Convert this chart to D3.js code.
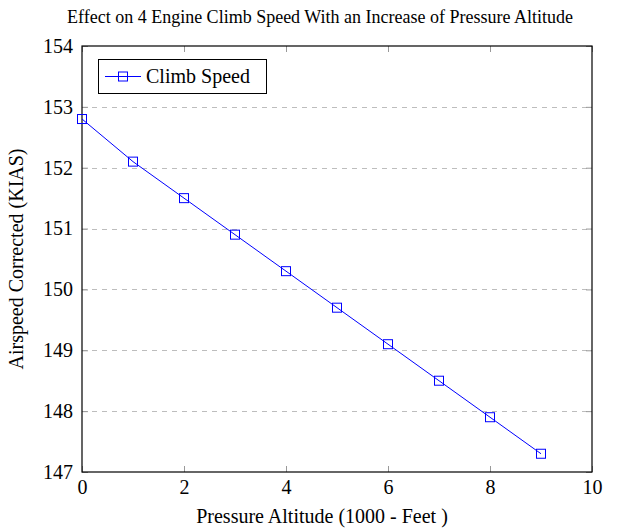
<!DOCTYPE html>
<html>
<head>
<meta charset="utf-8">
<script src="https://cdn.jsdelivr.net/npm/d3@7"></script>
<style>
  html, body { margin: 0; padding: 0; background: #fff; }
</style>
</head>
<body>
<svg id="chart" width="636" height="531"></svg>
<script>
// Climb speed vs pressure altitude
const altitudes = [0, 1, 2, 3, 4, 5, 6, 7, 8, 9];
const climbSpeed = [152.8, 152.1, 151.5, 150.9, 150.3, 149.7, 149.1, 148.5, 147.9, 147.3];
const xTicks = [0, 2, 4, 6, 8, 10];
const yTicks = [147, 148, 149, 150, 151, 152, 153, 154];
const seriesName = "Climb Speed";
const titleText = "Effect on 4 Engine Climb Speed With an Increase of Pressure Altitude";
const xLabel = "Pressure Altitude (1000 - Feet )";
const yLabel = "Airspeed Corrected (KIAS)";

const svg = d3.select("#chart");

// title and axis titles
svg.append("text").attr("x", 320).attr("y", 23).attr("text-anchor", "middle")
  .attr("font-family", "Liberation Serif").attr("font-size", 18).text(titleText);
svg.append("text").attr("x", 322).attr("y", 523).attr("text-anchor", "middle")
  .attr("font-family", "Liberation Serif").attr("font-size", 20).text(xLabel);
svg.append("text").attr("transform", "translate(23,259) rotate(-90)")
  .attr("text-anchor", "middle").attr("font-family", "Liberation Serif").attr("font-size", 20).text(yLabel);

const x = d3.scaleLinear().domain([0, 10]).range([82, 592]);
const y = d3.scaleLinear().domain([147, 154]).range([472, 46]);

// horizontal dashed grid
svg.append("g").selectAll("line").data(yTicks.slice(1, -1)).join("line")
  .attr("x1", x(0)).attr("x2", x(10))
  .attr("y1", d => Math.round(y(d)) + 0.5).attr("y2", d => Math.round(y(d)) + 0.5)
  .attr("stroke", "#bdbdbd").attr("stroke-width", 1).attr("stroke-dasharray", "5,5");

// tick labels from d3 axes; inner ticks on bottom/left
const xAxis = svg.append("g").attr("transform", "translate(0,472)")
  .call(d3.axisBottom(x).tickValues(xTicks).tickSizeInner(-6).tickSizeOuter(0).tickPadding(8).tickFormat(d3.format("d")));
const yAxis = svg.append("g").attr("transform", "translate(82,0)")
  .call(d3.axisLeft(y).tickValues(yTicks).tickSizeInner(-6).tickSizeOuter(0).tickPadding(9).tickFormat(d3.format("d")));
[xAxis, yAxis].forEach(a => {
  a.select(".domain").remove();
  a.selectAll(".tick line").attr("stroke", "#999");
  a.selectAll("text").attr("font-family", "Liberation Serif").attr("font-size", 20).attr("fill", "#000");
});
// mirrored inner ticks on top/right
const xTop = svg.append("g").attr("transform", "translate(0,46)")
  .call(d3.axisTop(x).tickValues(xTicks).tickSizeInner(-6).tickSizeOuter(0).tickFormat(""));
const yRight = svg.append("g").attr("transform", "translate(592,0)")
  .call(d3.axisRight(y).tickValues(yTicks).tickSizeInner(-6).tickSizeOuter(0).tickFormat(""));
[xTop, yRight].forEach(a => {
  a.select(".domain").remove();
  a.selectAll(".tick line").attr("stroke", "#999");
});

// frame
svg.append("rect").attr("x", x(0)).attr("y", y(154)).attr("width", x(10) - x(0)).attr("height", y(147) - y(154))
  .attr("fill", "none").attr("stroke", "#000").attr("stroke-width", 1.2);

// series line and square markers
const line = d3.line().x((d, i) => x(altitudes[i])).y(d => y(d));
svg.append("path").datum(climbSpeed).attr("d", line)
  .attr("fill", "none").attr("stroke", "#0000ff").attr("stroke-width", 1);
const ms = 9;
svg.append("g").selectAll("rect").data(climbSpeed).join("rect")
  .attr("x", (d, i) => x(altitudes[i]) - ms / 2).attr("y", d => y(d) - ms / 2)
  .attr("width", ms).attr("height", ms)
  .attr("fill", "none").attr("stroke", "#0000ff").attr("stroke-width", 1);

// legend
const lg = svg.append("g");
lg.append("rect").attr("x", 98.5).attr("y", 59.5).attr("width", 168).attr("height", 34)
  .attr("fill", "#fff").attr("stroke", "#000").attr("stroke-width", 1);
lg.append("line").attr("x1", 105).attr("x2", 141).attr("y1", 76.5).attr("y2", 76.5)
  .attr("stroke", "#0000ff").attr("stroke-width", 1);
lg.append("rect").attr("x", 123 - ms / 2).attr("y", 76.5 - ms / 2).attr("width", ms).attr("height", ms)
  .attr("fill", "none").attr("stroke", "#0000ff").attr("stroke-width", 1);
lg.append("text").attr("x", 146).attr("y", 83).attr("font-family", "Liberation Serif").attr("font-size", 20).text(seriesName);
</script>
</body>
</html>
